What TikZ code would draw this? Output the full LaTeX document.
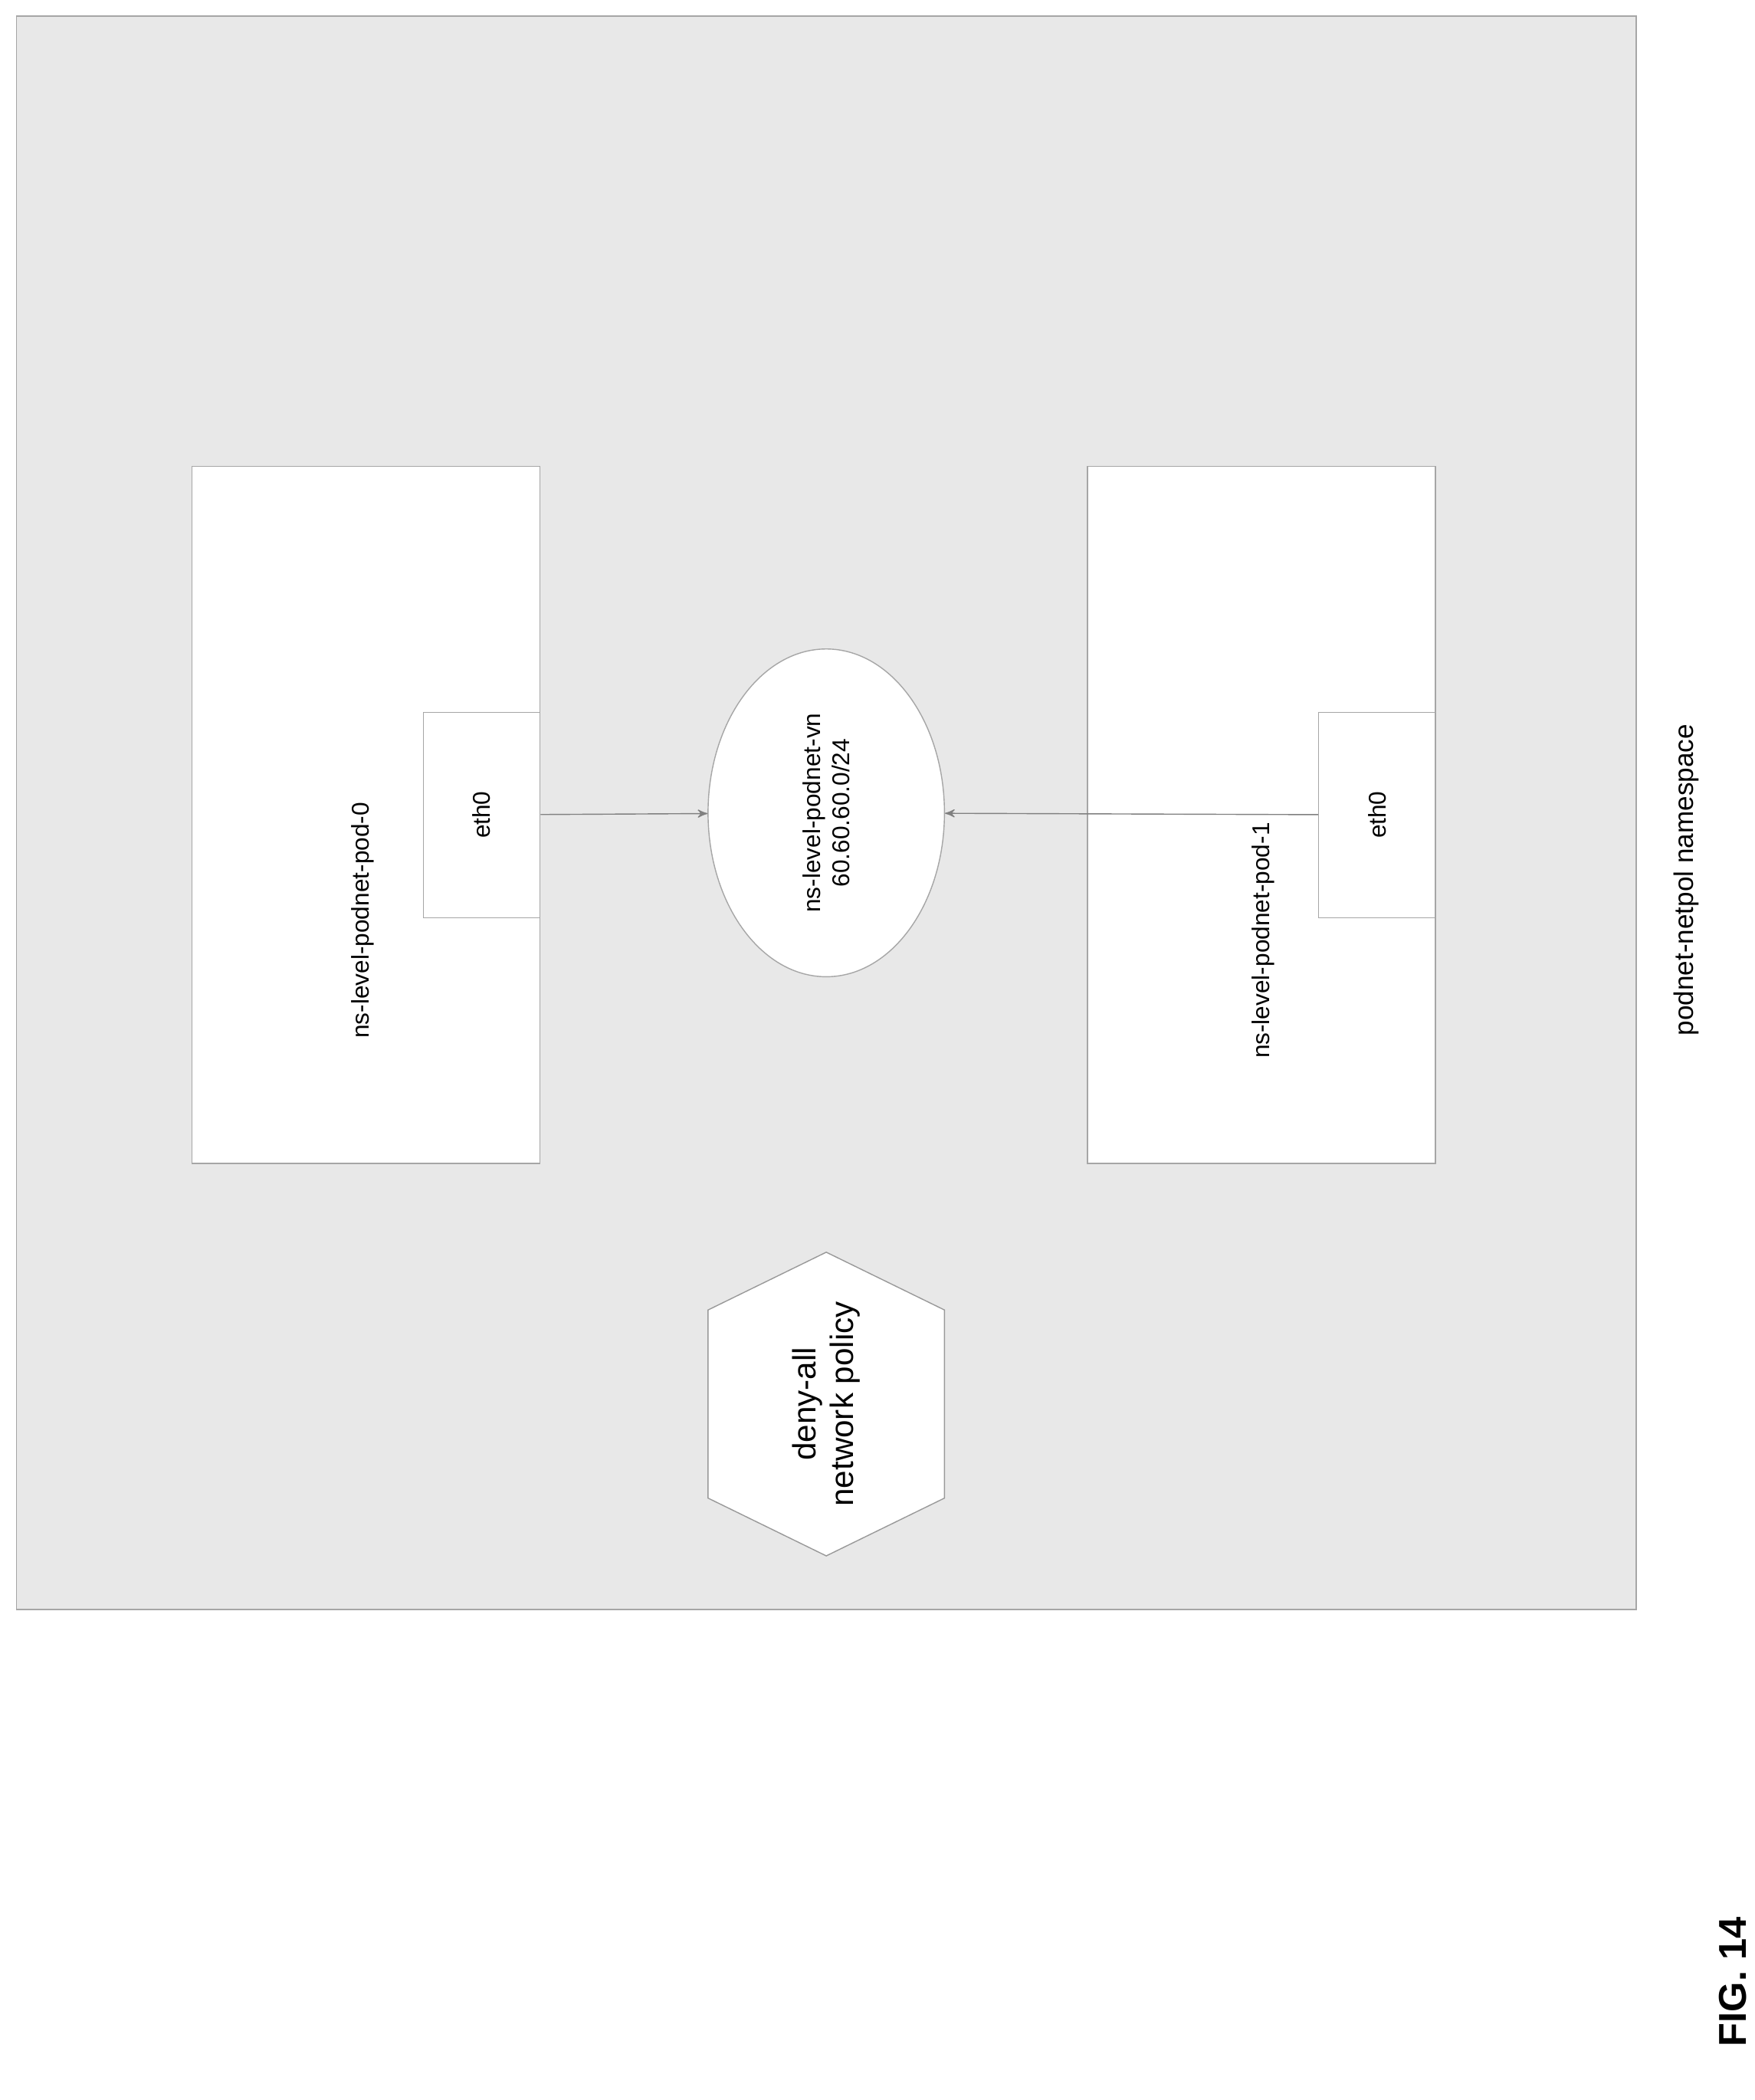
\documentclass[tikz,border=0pt]{standalone}
\usepackage{fontspec}
\setmainfont{Liberation Sans}
\usetikzlibrary{arrows,shapes.geometric,positioning}
\begin{document}
\begin{tikzpicture}[x={0.01753cm},y={-0.01753cm},>=stealth',thin,
    pod box/.style={rectangle,draw=gray!70,fill=white,minimum width=4.54cm,minimum height=9.1cm},
    eth box/.style={rectangle,draw=gray!70,fill=white,minimum width=1.525cm,minimum height=2.68cm,font=\small,rotate=90},
    lbl/.style={font=\small,rotate=90}]
  \useasboundingbox (0,0) rectangle (1306,1563);
  \node[draw=gray!70,fill=gray!18,minimum width=21.14cm,minimum height=20.79cm] (ns) at (615,605) {};

  \node[pod box] (pod0) at (272.5,606.5) {};
  \node[pod box] (pod1) at (939,606.5) {};
  \node[eth box,minimum width=2.68cm,minimum height=1.525cm] (eth0a) at (358.5,606.5) {eth0};
  \node[eth box,minimum width=2.68cm,minimum height=1.525cm] (eth0b) at (1025,606.5) {eth0};
  \node[lbl] (p0lbl) at (270,685) {ns-level-podnet-pod-0};
  \node[lbl] (p1lbl) at (940,700) {ns-level-podnet-pod-1};

  \node[ellipse,draw=gray!70,fill=white,minimum width=3.085cm,minimum height=4.277cm] (vn) at (615,605) {};
  \node[lbl,align=center] (vnlbl) at (615,605) {ns-level-podnet-vn\\60.60.60.0/24};

  \draw[draw=gray!80,fill=white] (615,932) -- (703,975) -- (703,1115) -- (615,1158)
    -- (527,1115) -- (527,975) -- cycle;
  \node[rotate=90,align=center,font=\large] (policy) at (615,1045) {deny-all\\network policy};

  \draw[->,gray] (eth0a) -- (vn);
  \draw[->,gray] (eth0b) -- (vn);

  \node[lbl,font=\normalsize] (nslbl) at (1255,655) {podnet-netpol namespace};
  \node[rotate=90,font=\Large\bfseries] (fig) at (1290,1475) {FIG. 14};
\end{tikzpicture}
\end{document}
